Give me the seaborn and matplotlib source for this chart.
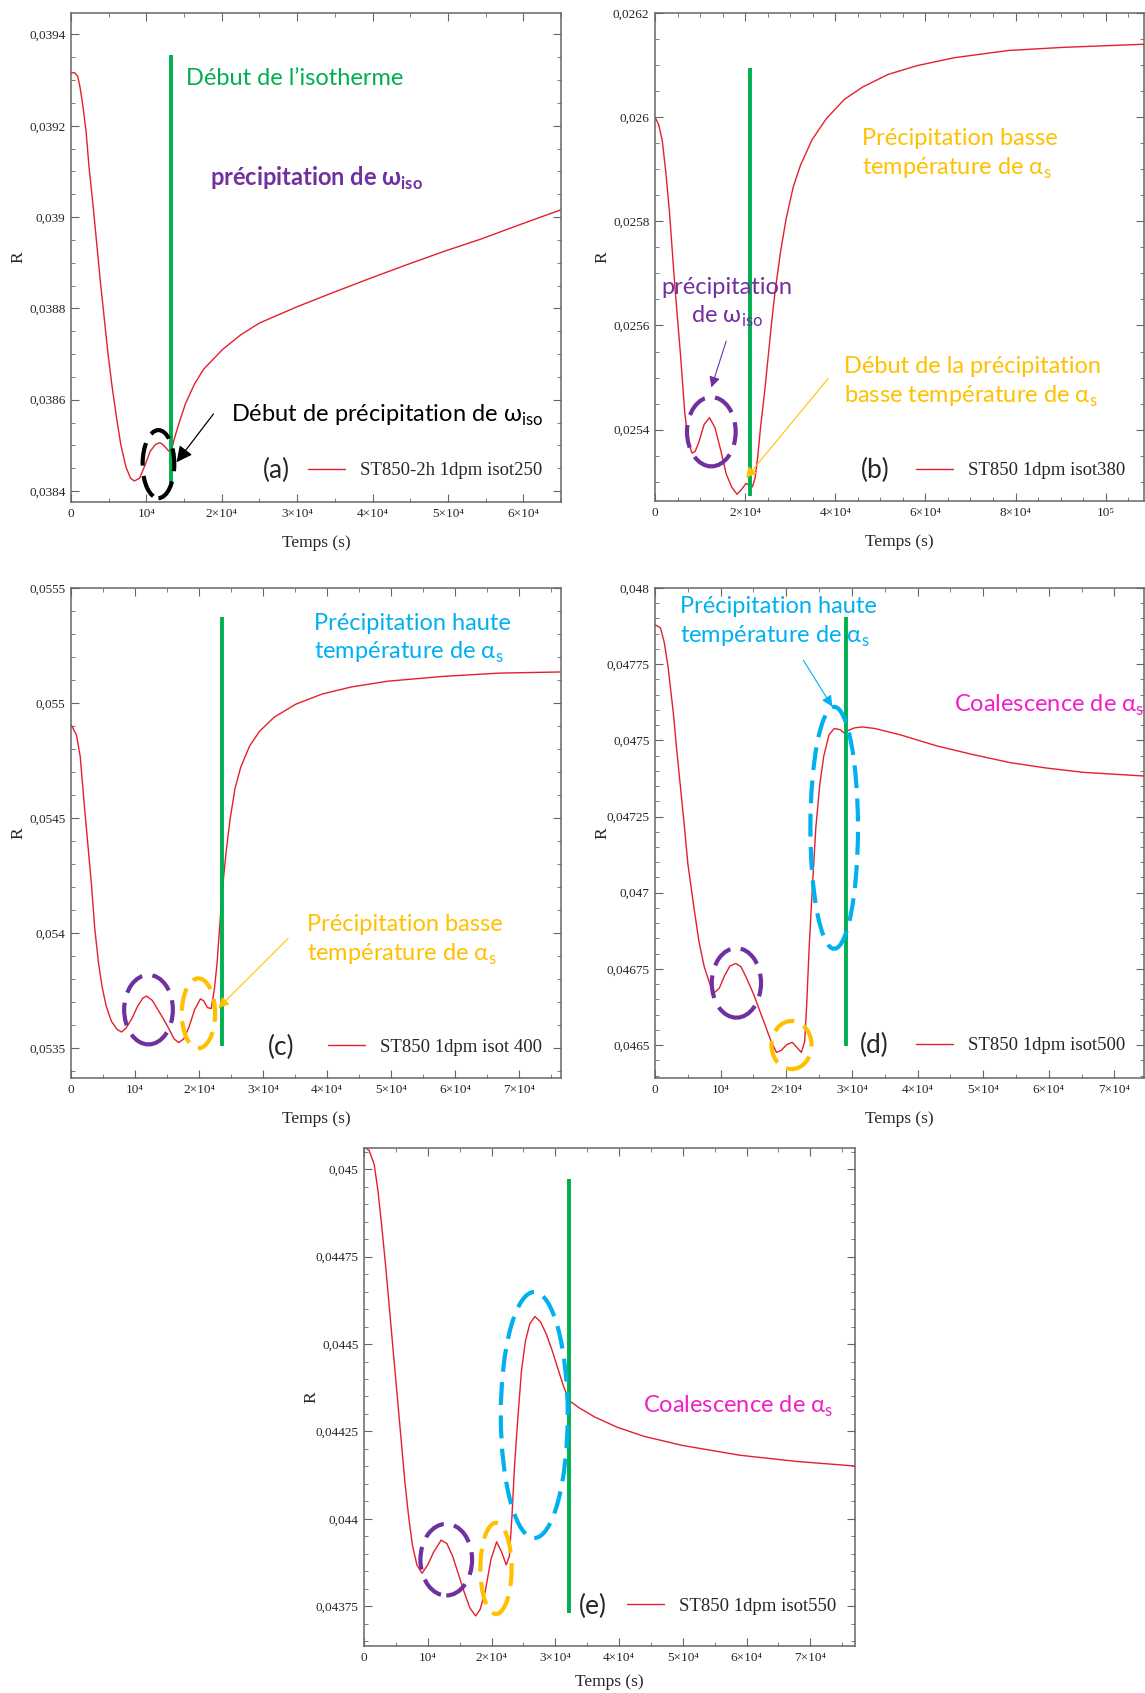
import matplotlib
matplotlib.use('Agg')
import matplotlib.pyplot as plt
import seaborn as sns
from matplotlib.patches import Ellipse
from matplotlib.ticker import MultipleLocator, FuncFormatter

# ---- data (t in s, R dimensionless) ----
t_a = [0, 500, 900, 1200, 1600, 2000, 2400, 2900, 3400, 3900, 4400, 4900, 5400, 6000, 6600,
       7300, 7900, 8400, 9100, 9800, 10500, 11200, 11800, 12300, 13000, 13300, 13700, 14200,
       15200, 16400, 17600, 20100, 22500, 25000, 29900, 34800, 39700, 44600, 49500, 54400,
       59300, 65000]
r_a = [0.039316, 0.039316, 0.039308, 0.039284, 0.039241, 0.039187, 0.039108, 0.039030, 0.038944,
       0.038858, 0.038780, 0.038702, 0.038635, 0.038565, 0.038502, 0.038452, 0.038428, 0.038422,
       0.038428, 0.038456, 0.038487, 0.038502, 0.038506, 0.038500, 0.038487, 0.038489, 0.038514,
       0.038542, 0.038592, 0.038635, 0.038667, 0.038710, 0.038742, 0.038768, 0.038803, 0.038835,
       0.038866, 0.038896, 0.038925, 0.038952, 0.038982, 0.039016]

t_b = [0, 800, 1600, 2400, 3200, 4400, 5700, 6600, 7400, 8200, 8900, 9700, 10900, 12100, 13300,
       14600, 15800, 17000, 18200, 19200, 20200, 21000, 21600, 22200, 22800, 23400, 24300, 25100,
       25900, 26700, 27900, 29100, 30700, 32300, 34800, 38000, 42000, 46100, 51700, 58200, 66300,
       78400, 90500, 108500]
r_b = [0.026000, 0.025986, 0.025956, 0.025894, 0.025819, 0.025676, 0.025539, 0.025433, 0.025376,
       0.025355, 0.025358, 0.025375, 0.025410, 0.025423, 0.025404, 0.025360, 0.025315, 0.025290,
       0.025276, 0.025285, 0.025297, 0.025292, 0.025290, 0.025307, 0.025348, 0.025403, 0.025471,
       0.025539, 0.025608, 0.025669, 0.025744, 0.025805, 0.025867, 0.025908, 0.025956, 0.025997,
       0.026034, 0.026058, 0.026082, 0.026099, 0.026114, 0.026128, 0.026134, 0.026140]

t_c = [0, 860, 1440, 2000, 2600, 3200, 3700, 4300, 4900, 5500, 6300, 7200, 7900, 8600, 9500,
       10400, 11200, 11800, 12700, 13500, 14400, 15300, 16100, 16800, 17600, 18400, 19300, 20200,
       20700, 21300, 21900, 22400, 22800, 23200, 23600, 24200, 24800, 25600, 26500, 27900, 29400,
       31700, 35100, 39200, 43800, 49500, 58200, 66800, 76500]
r_c = [0.054907, 0.054860, 0.054767, 0.054581, 0.054395, 0.054209, 0.054023, 0.053868, 0.053760,
       0.053682, 0.053617, 0.053581, 0.053570, 0.053587, 0.053628, 0.053682, 0.053717, 0.053726,
       0.053707, 0.053670, 0.053628, 0.053583, 0.053540, 0.053524, 0.053540, 0.053590, 0.053667,
       0.053714, 0.053706, 0.053676, 0.053672, 0.053760, 0.053868, 0.054023, 0.054178, 0.054349,
       0.054488, 0.054628, 0.054721, 0.054814, 0.054876, 0.054938, 0.054995, 0.055039, 0.055070,
       0.055095, 0.055116, 0.055130, 0.055135]

t_d = [0, 840, 1400, 2000, 2800, 3300, 3900, 4500, 5000, 5900, 6700, 7500, 8400, 9000, 9800,
       10600, 11400, 12300, 13100, 13900, 15100, 15900, 16700, 17600, 18500, 19200, 20100, 20900,
       21600, 22300, 22800, 23100, 23500, 24000, 24500, 25100, 25700, 26500, 27300, 28200, 28900,
       29400, 30400, 31500, 33500, 37400, 42900, 48500, 54100, 59700, 65300, 74500]
r_d = [0.047880, 0.047869, 0.047822, 0.047740, 0.047588, 0.047471, 0.047342, 0.047213, 0.047096,
       0.046956, 0.046839, 0.046757, 0.046698, 0.046671, 0.046687, 0.046728, 0.046759, 0.046768,
       0.046757, 0.046722, 0.046663, 0.046616, 0.046570, 0.046517, 0.046476, 0.046482, 0.046502,
       0.046509, 0.046493, 0.046476, 0.046511, 0.046628, 0.046827, 0.047026, 0.047213, 0.047354,
       0.047447, 0.047518, 0.047539, 0.047535, 0.047523, 0.047532, 0.047541, 0.047544, 0.047539,
       0.047518, 0.047482, 0.047453, 0.047427, 0.047409, 0.047395, 0.047383]

t_e = [0, 800, 1600, 2200, 2800, 3400, 4000, 4600, 5200, 5800, 6400, 7000, 7600, 8300, 9100,
       10000, 10900, 12100, 13000, 13900, 14800, 15700, 16600, 17500, 18200, 19000, 19900, 20800,
       21600, 22300, 22800, 23200, 23600, 24100, 24700, 25300, 26000, 26800, 27700, 28600, 29500,
       30400, 31300, 32200, 33700, 36100, 39700, 43900, 49900, 58900, 67900, 77000]
r_e = [0.045065, 0.045054, 0.045014, 0.044937, 0.044834, 0.044722, 0.044599, 0.044476, 0.044354,
       0.044231, 0.044108, 0.044006, 0.043924, 0.043868, 0.043844, 0.043868, 0.043904, 0.043939,
       0.043929, 0.043893, 0.043842, 0.043791, 0.043745, 0.043722, 0.043740, 0.043791, 0.043883,
       0.043934, 0.043904, 0.043868, 0.043893, 0.044006, 0.044149, 0.044282, 0.044425, 0.044507,
       0.044558, 0.044579, 0.044563, 0.044528, 0.044482, 0.044430, 0.044379, 0.044338, 0.044318,
       0.044292, 0.044262, 0.044236, 0.044210, 0.044182, 0.044164, 0.044151]

labels = ['ST850-2h 1dpm isot250', 'ST850 1dpm isot380', 'ST850 1dpm isot 400',
          'ST850 1dpm isot500', 'ST850 1dpm isot550']
tags = ['(a)', '(b)', '(c)', '(d)', '(e)']
t_iso = [13200, 21000, 23500, 29100, 32200]

RED = '#e3202b'
GREEN = '#00b050'
PURPLE = '#7030a0'
ORANGE = '#ffc000'
BLUE = '#00b0f0'
MAGENTA = '#f01fc8'

sns.set_style('ticks')
plt.rcParams['font.family'] = ['Liberation Serif', 'DejaVu Serif']
plt.rcParams['mathtext.fontset'] = 'custom'
plt.rcParams['mathtext.sf'] = 'Lato'
plt.rcParams['mathtext.bf'] = 'Lato:bold'
plt.rcParams['mathtext.rm'] = 'Liberation Serif'
ANN = ['Lato', 'DejaVu Sans']

fig = plt.figure(figsize=(11.45, 16.93), dpi=100)
W, H = 1145, 1693


def add_ax(l, r, t, b):
    return fig.add_axes([l / W, 1 - b / H, (r - l) / W, (b - t) / H])


def xfmt(v, pos):
    k = int(round(v / 1e4))
    if abs(v) < 1:
        return '0'
    if k == 10:
        return '10\u2075'
    if k == 1:
        return '10\u2074'
    return f'{k}\u00d710\u2074'


def yfmt(v, pos):
    return f'{v:.6f}'.rstrip('0').replace('.', ',')


def style(ax, xlim, ylim, xmaj, ymaj, ymin, xlab_y=-0.083):
    ax.set_xlim(*xlim)
    ax.set_ylim(*ylim)
    ax.xaxis.set_major_locator(MultipleLocator(xmaj))
    ax.xaxis.set_minor_locator(MultipleLocator(5000))
    ax.yaxis.set_major_locator(MultipleLocator(ymaj))
    ax.yaxis.set_minor_locator(MultipleLocator(ymin))
    ax.xaxis.set_major_formatter(FuncFormatter(xfmt))
    ax.yaxis.set_major_formatter(FuncFormatter(yfmt))
    ax.tick_params(which='both', direction='in', top=True, right=True, color='#666666',
                   labelsize=9.5, pad=4)
    ax.tick_params(which='major', length=6)
    ax.tick_params(which='minor', length=3)
    for s in ax.spines.values():
        s.set_color('#666666')
        s.set_linewidth(1.1)
    ax.set_xlabel('Temps (s)', fontsize=12.5)
    ax.set_ylabel('R', fontsize=12.5)
    ax.xaxis.set_label_coords(0.5, xlab_y)
    ax.xaxis.label.set_va('center')
    ax.yaxis.set_label_coords(-0.108, 0.5)
    ax.yaxis.label.set_va('center')


def draw(ax, t, r, i, ly_leg, ly):
    sns.lineplot(x=t, y=r, ax=ax, color=RED, lw=1.0, label=labels[i], sort=False)
    ax.vlines(t_iso[i], *ly, color=GREEN, lw=2.8, zorder=3)
    ax.legend(loc='center right', bbox_to_anchor=(0.962, ly_leg), frameon=False,
              fontsize=13.5, handlelength=2.0, handletextpad=0.8, borderpad=0,
              borderaxespad=0)
    ax.text(tagx[i], ly_leg, tags[i], transform=ax.transAxes, ha='center', va='center',
            fontsize=19, family=ANN)


def ell(ax, xy, w, h, color):
    ax.add_patch(Ellipse(xy, w, h, fill=False, ec=color, lw=3, ls=(0, (5.5, 2.5)), zorder=4))


def txt(ax, x, y, s, color, **kw):
    kw.setdefault('ha', 'left')
    ax.text(x, y, s, color=color, fontsize=17, family=ANN, va='center', **kw)


def arrow(ax, start, end, color, lw=0.8, ms=14):
    ax.annotate('', xy=end, xytext=start,
                arrowprops=dict(arrowstyle='-|>', color=color, lw=lw, mutation_scale=ms,
                                shrinkA=0, shrinkB=0), zorder=5)


tagx = [0.42, 0.451, 0.429, 0.449, 0.466]
ALPHA_S = r'température de α$_{\mathsf{s}}$'

# (a)
ax = add_ax(71, 561, 13, 502)
draw(ax, t_a, r_a, 0, 0.064, (0.038416, 0.039355))
style(ax, (0, 65000), (0.038376, 0.039447), 10000, 0.0002, 0.00005)
txt(ax, 15200, 0.039304, 'Début de l\u2019isotherme', GREEN)
txt(ax, 18400, 0.039085, r'précipitation de ω$_{\mathbf{iso}}$', PURPLE, fontweight='bold')
txt(ax, 21200, 0.038565, r'Début de précipitation de ω$_{\mathsf{iso}}$', 'black')
arrow(ax, (18900, 0.038569), (14000, 0.038463), 'black', lw=0.9, ms=24)
ell(ax, (11600, 0.038459), 4200, 0.000149, 'black')

# (b)
ax = add_ax(655, 1144, 13, 501)
draw(ax, t_b, r_b, 1, 0.062, (0.025273, 0.026094))
style(ax, (0, 108500), (0.025263, 0.0262), 20000, 0.0002, 0.00005)
txt(ax, 46000, 0.025959, 'Précipitation basse', ORANGE)
txt(ax, 46000, 0.025901, ALPHA_S, ORANGE)
txt(ax, 16000, 0.025672, 'précipitation', PURPLE, ha='center')
txt(ax, 16000, 0.025618, r'de ω$_{\mathsf{iso}}$', PURPLE, ha='center')
arrow(ax, (15800, 0.025570), (12500, 0.025481), PURPLE, ms=16)
ell(ax, (12500, 0.025396), 10800, 0.000133, PURPLE)
txt(ax, 42000, 0.025522, 'Début de la précipitation', ORANGE)
txt(ax, 42000, 0.025464, r'basse température de α$_{\mathsf{s}}$', ORANGE)
arrow(ax, (38400, 0.025498), (20200, 0.025307), ORANGE, ms=16)

# (c)
ax = add_ax(71, 561, 588, 1078)
draw(ax, t_c, r_c, 2, 0.063, (0.053507, 0.055372))
style(ax, (0, 76500), (0.05337, 0.0555), 10000, 0.0005, 0.0001)
txt(ax, 37900, 0.055344, 'Précipitation haute', BLUE)
txt(ax, 37900, 0.055220, ALPHA_S, BLUE)
txt(ax, 36800, 0.054039, 'Précipitation basse', ORANGE)
txt(ax, 36800, 0.053907, ALPHA_S, ORANGE)
arrow(ax, (33900, 0.053977), (23000, 0.053674), ORANGE, ms=16)
ell(ax, (12100, 0.053667), 7600, 0.000302, PURPLE)
ell(ax, (19900, 0.053651), 5200, 0.000304, ORANGE)

# (d)
ax = add_ax(655, 1144, 588, 1078)
draw(ax, t_d, r_d, 3, 0.0655, (0.046496, 0.047904))
style(ax, (0, 74500), (0.046392, 0.048), 10000, 0.00025, 0.00005)
txt(ax, 3800, 0.047939, 'Précipitation haute', BLUE)
txt(ax, 3800, 0.047842, ALPHA_S, BLUE)
txt(ax, 45500, 0.047614, r'Coalescence de α$_{\mathsf{s}}$', MAGENTA)
arrow(ax, (22600, 0.047763), (27000, 0.047611), BLUE, ms=16)
ell(ax, (27300, 0.047213), 7250, 0.000794, BLUE)
ell(ax, (12400, 0.046704), 7500, 0.000228, PURPLE)
ell(ax, (20800, 0.046500), 6100, 0.000158, ORANGE)

# (e)
ax = add_ax(364, 855, 1148, 1646)
draw(ax, t_e, r_e, 4, 0.080, (0.043730, 0.044973))
style(ax, (0, 77000), (0.043636, 0.045061), 10000, 0.00025, 0.00005, xlab_y=-0.072)
txt(ax, 43800, 0.044323, r'Coalescence de α$_{\mathsf{s}}$', MAGENTA)
ell(ax, (26700, 0.044297), 10500, 0.000704, BLUE)
ell(ax, (12900, 0.043883), 8100, 0.000205, PURPLE)
ell(ax, (20700, 0.043858), 4900, 0.000261, ORANGE)

fig.savefig('out.png', dpi=100, facecolor='white')
